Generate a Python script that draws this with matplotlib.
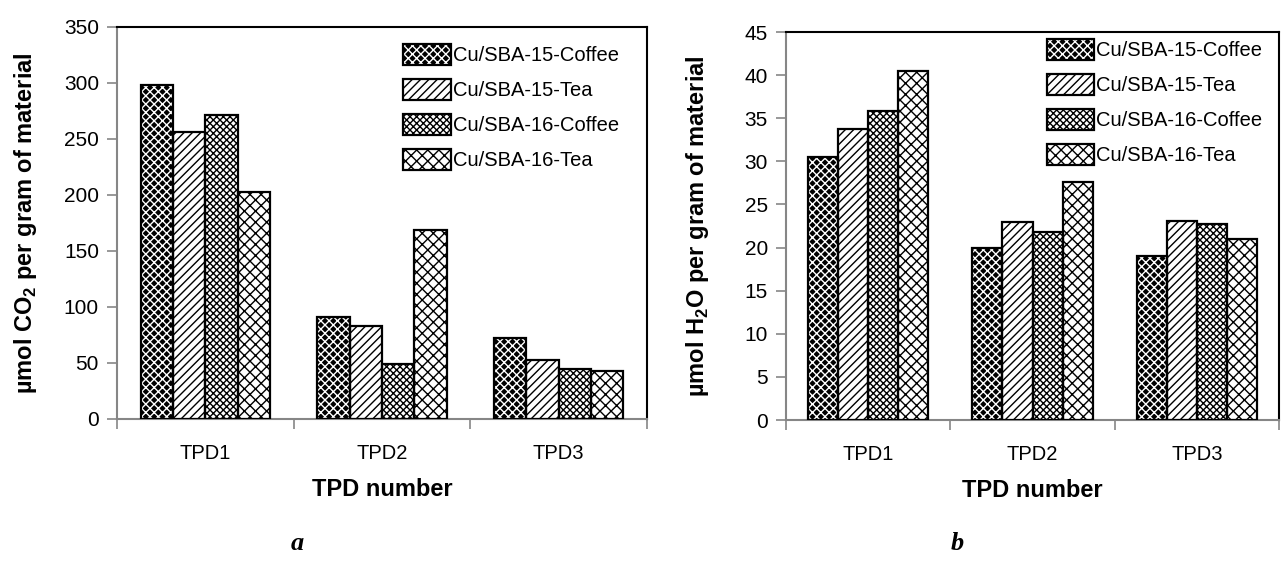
import matplotlib
matplotlib.use("Agg")
import matplotlib.pyplot as plt
import numpy as np

plt.rcParams['font.family'] = ['Liberation Sans', 'DejaVu Sans']
plt.rcParams['mathtext.fontset'] = 'custom'
plt.rcParams['mathtext.rm'] = 'Liberation Sans'
plt.rcParams['mathtext.bf'] = 'Liberation Sans:bold'
plt.rcParams['hatch.linewidth'] = 1.0

groups = ["TPD1", "TPD2", "TPD3"]
series = ["Cu/SBA-15-Coffee", "Cu/SBA-15-Tea", "Cu/SBA-16-Coffee", "Cu/SBA-16-Tea"]

co2_coffee15 = [298, 91, 72]
co2_tea15 = [256, 83, 53]
co2_coffee16 = [271, 49, 45]
co2_tea16 = [203, 169, 43]

h2o_coffee15 = [30.5, 20.0, 19.0]
h2o_tea15 = [33.7, 23.0, 23.1]
h2o_coffee16 = [35.8, 21.8, 22.7]
h2o_tea16 = [40.5, 27.6, 21.0]

# (facecolor, hatch colour, hatch)
styles = [
    ("black", "white", "xxxx"),
    ("white", "black", "////"),
    ("white", "black", "xxxxx"),
    ("white", "black", "xxx"),
]

W, H = 1281, 581
fig = plt.figure(figsize=(W / 100, H / 100), dpi=100)


def px_axes(x0, y0, x1, y1):
    return fig.add_axes([x0 / W, 1 - y1 / H, (x1 - x0) / W, (y1 - y0) / H])


def draw(ax, data, ymax, ystep, ylabel, leg_anchor, ylabelpad):
    x = np.arange(len(groups))
    w = 0.183
    handles = []
    for i, vals in enumerate(data):
        fc, hc, hatch = styles[i]
        pos = x + (i - 1.5) * w
        f = ax.bar(pos, vals, w, color=fc, edgecolor=hc, hatch=hatch, linewidth=0, zorder=2)
        e = ax.bar(pos, vals, w, fill=False, edgecolor="black", linewidth=1.6, zorder=3)
        handles.append((f[0], e[0]))
    ax.set_xlim(-0.5, 2.5)
    ax.set_ylim(0, ymax)
    ax.set_yticks(np.arange(0, ymax + 0.001, ystep))
    ax.set_xticks(x)
    ax.set_xticklabels(groups, fontsize=14.5)
    ax.set_xticks([-0.5, 0.5, 1.5, 2.5], minor=True)
    ax.tick_params(axis='x', which='major', length=0, pad=18)
    ax.tick_params(axis='x', which='minor', length=7, color='#868686', width=1.2)
    ax.tick_params(axis='y', length=7, color='#868686', width=1.2, labelsize=15, pad=6)
    for s in ('left', 'bottom'):
        ax.spines[s].set_color('#868686')
        ax.spines[s].set_linewidth(1.5)
    for s in ('top', 'right'):
        ax.spines[s].set_color('black')
        ax.spines[s].set_linewidth(1.5)
    ax.set_ylabel(ylabel, fontsize=17, fontweight='bold', labelpad=ylabelpad)
    ax.set_xlabel("TPD number", fontsize=17, fontweight='bold', labelpad=11)
    ax.legend(handles, series, loc='upper left', bbox_to_anchor=leg_anchor,
              frameon=False, fontsize=14.5, handlelength=2.35, handleheight=1.25,
              handletextpad=0.1, labelspacing=0.67, borderpad=0, borderaxespad=0)


ax1 = px_axes(117, 27, 647, 419)
draw(ax1, [co2_coffee15, co2_tea15, co2_coffee16, co2_tea16], 350, 50,
     r"µmol CO$_\mathbf{2}$ per gram of material", (0.54, 0.957), 18)

ax2 = px_axes(786, 32, 1279, 420)
draw(ax2, [h2o_coffee15, h2o_tea15, h2o_coffee16, h2o_tea16], 45, 5,
     r"µmol H$_\mathbf{2}$O per gram of material", (0.529, 0.982), 24)

fig.text(297 / W, 1 - 543 / H, "a", fontsize=19, fontweight='bold', fontstyle='italic',
         family='Liberation Serif', ha='center', va='center')
fig.text(957 / W, 1 - 543 / H, "b", fontsize=19, fontweight='bold', fontstyle='italic',
         family='Liberation Serif', ha='center', va='center')

fig.savefig("out.png", dpi=100)
